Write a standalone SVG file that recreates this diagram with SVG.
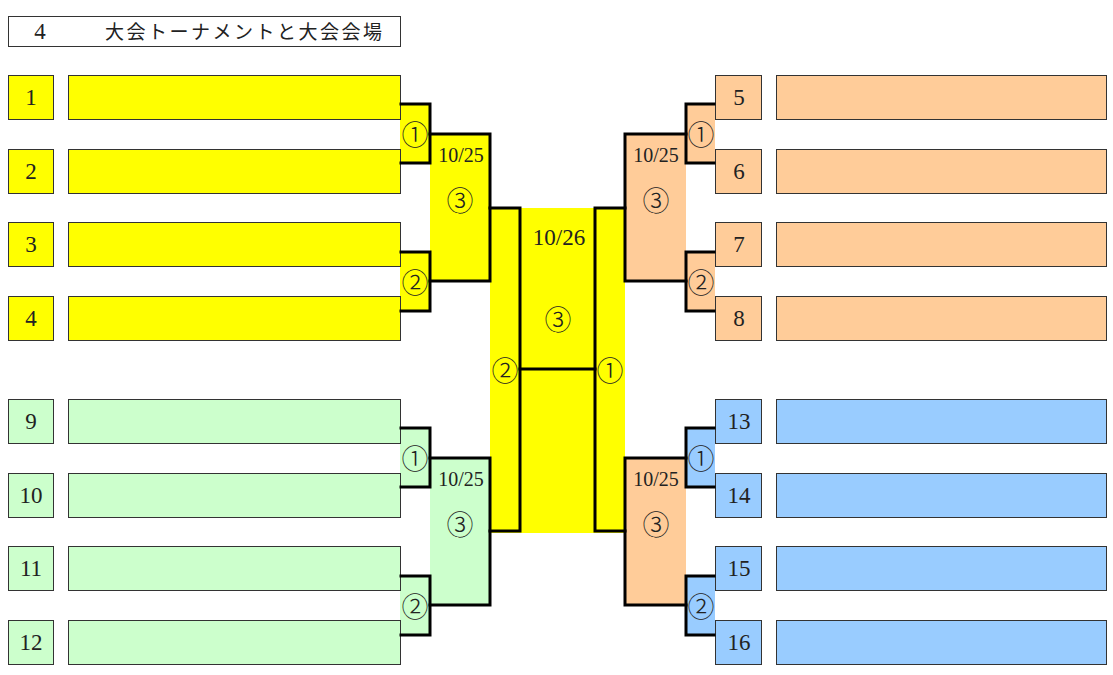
<svg xmlns="http://www.w3.org/2000/svg" width="1113" height="675" viewBox="0 0 1113 675">
<style>
.y{fill:#FFFF00}.g{fill:#CCFFCC}.p{fill:#FFCC99}.b{fill:#99CCFF}
.box{stroke:#333;stroke-width:1}
.t{font-family:"Liberation Serif","DejaVu Serif",serif;fill:#222;text-anchor:middle;dominant-baseline:central}
.n{font-size:23px}
.d{font-size:20px}
.c{font-family:"Noto Sans CJK JP","DejaVu Sans",sans-serif;font-size:27px;fill:#222;text-anchor:middle;dominant-baseline:central;font-weight:300}
.ln{fill:none;stroke:#000;stroke-width:3;stroke-linecap:square}
</style>
<rect width="1113" height="675" fill="#fff"/>
<g id="title">
<rect x="8.5" y="16.5" width="392" height="30" fill="#fff" stroke="#333" stroke-width="1"/>
<text class="t" x="40" y="31.5" font-size="23">4</text>
<text x="105" y="38.5" font-family="Noto Sans CJK JP,sans-serif" font-size="19" fill="#222" textLength="277" lengthAdjust="spacing">大会トーナメントと大会会場</text>
</g>
<g id="fills">
<rect class="y" x="400" y="104" width="30" height="59"/>
<rect class="y" x="400" y="252" width="30" height="59"/>
<rect class="y" x="430" y="134" width="60" height="147"/>
<rect class="g" x="400" y="428" width="30" height="59"/>
<rect class="g" x="400" y="576" width="30" height="59"/>
<rect class="g" x="430" y="458" width="60" height="147"/>
<rect class="y" x="490" y="208" width="135" height="325"/>
<rect class="p" x="686" y="104" width="29" height="59"/>
<rect class="p" x="686" y="252" width="29" height="59"/>
<rect class="p" x="625" y="134" width="61" height="147"/>
<rect class="b" x="686" y="428" width="29" height="59"/>
<rect class="b" x="686" y="576" width="29" height="59"/>
<rect class="p" x="625" y="458" width="61" height="147"/>
</g>
<g id="team1"><rect class="y box" x="8.5" y="75.5" width="45" height="44"/><rect class="y box" x="68.5" y="75.5" width="332" height="44"/><text class="t n" x="31" y="97.5">1</text></g>
<g id="team2"><rect class="y box" x="8.5" y="149.5" width="45" height="44"/><rect class="y box" x="68.5" y="149.5" width="332" height="44"/><text class="t n" x="31" y="171.5">2</text></g>
<g id="team3"><rect class="y box" x="8.5" y="222.5" width="45" height="44"/><rect class="y box" x="68.5" y="222.5" width="332" height="44"/><text class="t n" x="31" y="244.5">3</text></g>
<g id="team4"><rect class="y box" x="8.5" y="296.5" width="45" height="44"/><rect class="y box" x="68.5" y="296.5" width="332" height="44"/><text class="t n" x="31" y="318.5">4</text></g>
<g id="team9"><rect class="g box" x="8.5" y="399.5" width="45" height="44"/><rect class="g box" x="68.5" y="399.5" width="332" height="44"/><text class="t n" x="31" y="421.5">9</text></g>
<g id="team10"><rect class="g box" x="8.5" y="473.5" width="45" height="44"/><rect class="g box" x="68.5" y="473.5" width="332" height="44"/><text class="t n" x="31" y="495.5">10</text></g>
<g id="team11"><rect class="g box" x="8.5" y="546.5" width="45" height="44"/><rect class="g box" x="68.5" y="546.5" width="332" height="44"/><text class="t n" x="31" y="568.5">11</text></g>
<g id="team12"><rect class="g box" x="8.5" y="620.5" width="45" height="44"/><rect class="g box" x="68.5" y="620.5" width="332" height="44"/><text class="t n" x="31" y="642.5">12</text></g>
<g id="team5"><rect class="p box" x="715.5" y="75.5" width="46" height="44"/><rect class="p box" x="776.5" y="75.5" width="330" height="44"/><text class="t n" x="739" y="97.5">5</text></g>
<g id="team6"><rect class="p box" x="715.5" y="149.5" width="46" height="44"/><rect class="p box" x="776.5" y="149.5" width="330" height="44"/><text class="t n" x="739" y="171.5">6</text></g>
<g id="team7"><rect class="p box" x="715.5" y="222.5" width="46" height="44"/><rect class="p box" x="776.5" y="222.5" width="330" height="44"/><text class="t n" x="739" y="244.5">7</text></g>
<g id="team8"><rect class="p box" x="715.5" y="296.5" width="46" height="44"/><rect class="p box" x="776.5" y="296.5" width="330" height="44"/><text class="t n" x="739" y="318.5">8</text></g>
<g id="team13"><rect class="b box" x="715.5" y="399.5" width="46" height="44"/><rect class="b box" x="776.5" y="399.5" width="330" height="44"/><text class="t n" x="739" y="421.5">13</text></g>
<g id="team14"><rect class="b box" x="715.5" y="473.5" width="46" height="44"/><rect class="b box" x="776.5" y="473.5" width="330" height="44"/><text class="t n" x="739" y="495.5">14</text></g>
<g id="team15"><rect class="b box" x="715.5" y="546.5" width="46" height="44"/><rect class="b box" x="776.5" y="546.5" width="330" height="44"/><text class="t n" x="739" y="568.5">15</text></g>
<g id="team16"><rect class="b box" x="715.5" y="620.5" width="46" height="44"/><rect class="b box" x="776.5" y="620.5" width="330" height="44"/><text class="t n" x="739" y="642.5">16</text></g>
<g id="connectors" class="ln">
<path d="M401 104H430V163H401"/>
<path d="M401 252H430V311H401"/>
<path d="M430 134H490V281H430"/>
<path d="M401 428H430V487H401"/>
<path d="M401 576H430V635H401"/>
<path d="M430 458H490V605H430"/>
<path d="M490 208H520V531H490"/>
<path d="M520 369H595"/>
<path d="M625 208H595V531H625"/>
<path d="M714 104H686V163H714"/>
<path d="M714 252H686V311H714"/>
<path d="M686 134H625V281H686"/>
<path d="M714 428H686V487H714"/>
<path d="M714 576H686V635H714"/>
<path d="M686 458H625V605H686"/>
</g>
<g id="labels">
<text class="c" x="415" y="133">①</text>
<text class="c" x="415" y="281">②</text>
<text class="t d" x="461" y="155">10/25</text>
<text class="c" x="460" y="199">③</text>
<text class="c" x="415" y="457">①</text>
<text class="c" x="415" y="605">②</text>
<text class="t d" x="461" y="479">10/25</text>
<text class="c" x="460" y="523">③</text>
<text class="t" x="559" y="237" font-size="23">10/26</text>
<text class="c" x="558" y="318">③</text>
<text class="c" x="505" y="369">②</text>
<text class="c" x="610" y="369">①</text>
<text class="c" x="701" y="133">①</text>
<text class="c" x="701" y="281">②</text>
<text class="t d" x="656" y="155">10/25</text>
<text class="c" x="656" y="199">③</text>
<text class="c" x="701" y="457">①</text>
<text class="c" x="701" y="605">②</text>
<text class="t d" x="656" y="479">10/25</text>
<text class="c" x="656" y="523">③</text>
</g>
</svg>
